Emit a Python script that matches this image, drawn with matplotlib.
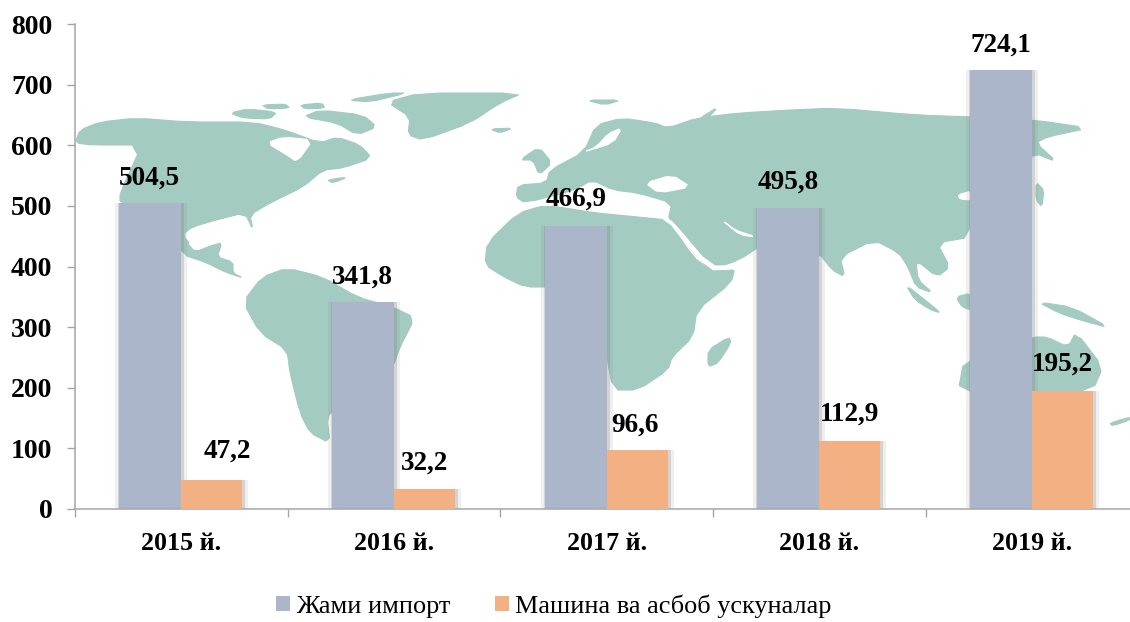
import matplotlib
matplotlib.use("Agg")
import matplotlib.pyplot as plt
from matplotlib.patches import Polygon, Patch

years = ["2015 й.", "2016 й.", "2017 й.", "2018 й.", "2019 й."]
total_import = [504.5, 341.8, 466.9, 495.8, 724.1]
machinery = [47.2, 32.2, 96.6, 112.9, 195.2]
series_names = ["Жами импорт", "Машина ва асбоб ускуналар"]
yticks = [0, 100, 200, 300, 400, 500, 600, 700, 800]

# label nudges in pixels (x, y above bar top)
total_nudge = [(-32, 25), (-32, 25), (-31, 27), (-31, 26), (-31, 25)]
mach_nudge = [(15, 29), (0, 26), (-2, 25), (0, 26), (0, 26)]

# decorative background map outlines, in figure pixels
LAND = [
    [(75,143),(80,130),(100,122),(137,118),(187,122),(253,122),(285,130),(320,143),(337,137),(360,145),(372,158),
     (343,168),(323,170),(303,187),(270,203),(250,215),(253,230),(245,213),(217,220),(193,227),(187,243),(195,252),
     (213,245),(222,243),(217,257),(233,262),(233,273),(243,278),(225,272),(205,262),(183,255),(170,227),(120,203),
     (120,193),(142,145),(93,145)],
    [(303,117),(320,110),(363,115),(377,127),(357,135),(337,123)],
    [(230,113),(247,109),(277,112),(270,119),(243,118)],
    [(262,105),(285,104),(290,108),(268,109)],
    [(300,105),(322,103),(325,108),(305,109)],
    [(347,100),(390,93),(407,93),(370,102)],
    [(387,102),(420,93),(523,93),(500,103),(470,123),(423,140),(408,135),(410,117)],
    [(490,129),(513,128),(500,133)],
    [(327,180),(348,177),(333,183)],
    [(243,302),(262,277),(287,268),(323,277),(357,297),(393,307),(415,318),(400,347),(393,367),(363,387),(337,407),
     (327,417),(330,443),(310,433),(300,413),(290,373),(287,350),(260,333)],
    [(485,265),(487,243),(518,213),(546,205),(596,213),(638,217),(668,220),(693,257),(710,270),(735,268),(731,283),
     (697,310),(693,337),(672,357),(668,370),(638,390),(613,390),(605,347),(596,293),(554,287),(525,287),(504,277)],
    [(729,337),(731,343),(718,363),(708,367),(708,350)],
    [(516,197),(518,185),(546,183),(550,170),(584,152),(596,125),(622,118),(655,123),(668,128),(697,118),(739,113),
     (790,110),(836,108),(916,115),(975,117),(1034,120),(1089,128),(1047,137),(1036,143),(1057,162),(1034,153),
     (971,180),(971,237),(937,243),(950,267),(937,277),(916,260),(918,280),(933,293),(916,287),(908,267),(899,253),
     (874,240),(840,257),(845,277),(832,270),(819,253),(765,243),(739,260),(710,270),(697,257),(668,220),(672,203),
     (638,193),(613,190),(592,180),(575,190),(525,203)],
    [(520,160),(539,147),(552,163),(539,175),(533,160)],
    [(1036,182),(1044,190),(1042,207),(1036,200)],
    [(906,285),(925,300),(941,313),(931,310),(915,300)],
    [(956,297),(971,293),(971,310),(962,307)],
    [(1038,302),(1072,307),(1110,328),(1080,320),(1059,313)],
    [(958,392),(964,360),(1034,337),(1047,337),(1068,347),(1076,332),(1103,367),(1093,390),(1034,395)],
    [(1110,423),(1130,417),(1130,420),(1112,426)],
    [(586,100),(621,100),(605,105)],
    [(700,118),(718,107),(708,118)],
]
WATER = [
    [(267,143),(283,137),(313,140),(297,162),(287,155)],
    [(645,183),(672,175),(691,187),(659,193)],
    [(722,220),(735,230),(756,237),(740,235)],
    [(622,128),(613,143),(584,152),(596,147),(609,133)],
    [(668,221),(672,221),(710,266),(735,266),(735,269),(708,270)],
    [(184,235),(193,228),(217,221),(245,214),(222,240),(195,248)],
    [(958,195),(971,191),(971,200),(960,199)],
]
LAND_COLOR = "#a3cbc1"
BLUE = "#abb6ca"
ORANGE = "#f3b083"
AXIS = "#a6a6a6"
SERIF = "Liberation Serif"


def rounded(points, rounds=1):
    """Corner-cut an outline so the decorative coastline looks soft."""
    for _ in range(rounds):
        out = []
        for i, (x0, y0) in enumerate(points):
            x1, y1 = points[(i + 1) % len(points)]
            out.append((0.8 * x0 + 0.2 * x1, 0.8 * y0 + 0.2 * y1))
            out.append((0.2 * x0 + 0.8 * x1, 0.2 * y0 + 0.8 * y1))
        points = out
    return points


W, H = 1130, 622
fig = plt.figure(figsize=(W / 100, H / 100), dpi=100, facecolor="white")

bg = fig.add_axes([0, 0, 1, 1], zorder=0)
bg.set_xlim(0, W)
bg.set_ylim(H, 0)
bg.axis("off")
for poly in LAND:
    bg.add_patch(Polygon(rounded(poly), closed=True, fc=LAND_COLOR, ec=LAND_COLOR, lw=0.8, joinstyle="round"))
for poly in WATER:
    bg.add_patch(Polygon(rounded(poly), closed=True, fc="white", ec="white", lw=0.8))

ax = fig.add_axes([75 / W, 1 - 509 / H, (W - 75) / W, 485 / H], zorder=1)
ax.patch.set_visible(False)
px = 1 / 212.7
ax.set_xlim(0, (W - 75) * px)
ax.set_ylim(0, 800)

bar_w = 62 * px
orange_w = 61 * px
centers = [i + 0.5 for i in range(len(years))]
left = [c - bar_w / 2 for c in centers]
right = [c + orange_w / 2 for c in centers]

for x, vals, w in ((left, total_import, bar_w), (right, machinery, orange_w)):
    for grow, a in ((10, 0.12), (4, 0.25)):
        ax.bar([v + 1 * px for v in x], vals, width=w + grow * px, color="#808080", alpha=a, lw=0, zorder=1)
ax.bar(left, total_import, width=bar_w, color=BLUE, lw=0, zorder=2)
ax.bar(right, machinery, width=orange_w, color=ORANGE, lw=0, zorder=3)

lab = dict(ha="center", va="center", fontfamily=SERIF, fontweight="bold", fontsize=19.5, color="black",
           textcoords="offset points", zorder=5)
for c, v, n in zip(centers, total_import, total_nudge):
    ax.annotate(f"{v:.1f}".replace(".", ","), (c, v), xytext=(n[0] * 0.72, n[1] * 0.72), **lab)
for x, v, n in zip(right, machinery, mach_nudge):
    ax.annotate(f"{v:.1f}".replace(".", ","), (x, v), xytext=(n[0] * 0.72, n[1] * 0.72), **lab)

for s in ("top", "right"):
    ax.spines[s].set_visible(False)
for s in ("left", "bottom"):
    ax.spines[s].set_color(AXIS)
    ax.spines[s].set_linewidth(1.1)

ax.set_yticks(yticks)
ax.set_yticklabels([str(t) for t in yticks], fontfamily=SERIF, fontweight="bold", fontsize=20)
ax.tick_params(axis="y", length=5.8, width=1.0, color=AXIS, pad=10.5)

ax.set_xticks([0, 1, 2, 3, 4])
ax.set_xticklabels([""] * 5)
ax.tick_params(axis="x", length=5.8, width=1.0, color=AXIS)
for c, y in zip(centers, years):
    ax.annotate(y, (c, 0), xytext=(0, -35 * 0.72), textcoords="offset points", ha="center", va="center",
                fontfamily=SERIF, fontweight="bold", fontsize=18.7, annotation_clip=False)

handles = [Patch(fc=BLUE, ec="none"), Patch(fc=ORANGE, ec="none")]
fig.legend(handles, series_names, loc="center", bbox_to_anchor=(554 / W, 1 - 606 / H), ncol=2, frameon=False,
           prop={"family": SERIF, "size": 18.9}, handlelength=0.53, handleheight=0.53, handletextpad=0.23,
           columnspacing=1.7, borderpad=0, borderaxespad=0)

fig.savefig("out.png", dpi=100, facecolor="white")
